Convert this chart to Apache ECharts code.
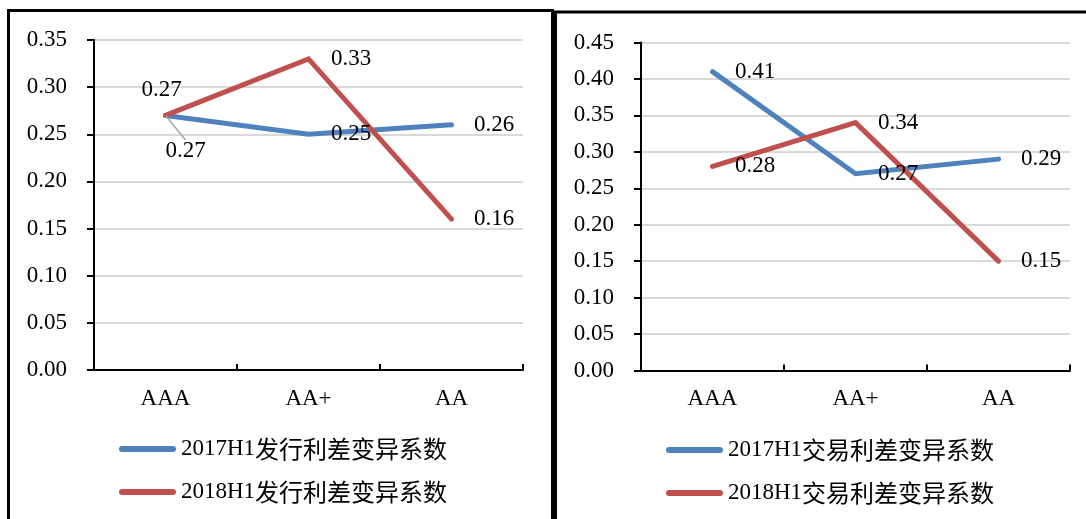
<!DOCTYPE html>
<html>
<head>
<meta charset="utf-8">
<style>
  html, body { margin: 0; padding: 0; background: #fff; }
  #chart { width: 1086px; height: 519px; }
</style>
<script src="https://cdn.jsdelivr.net/npm/echarts@6/dist/echarts.min.js"></script>
</head>
<body>
<div id="chart"></div>
<script>
// Rating categories shared by both panels
const categories = ['AAA', 'AA+', 'AA'];

// Issuance spread coefficient of variation (left panel)
const issueNames = ['2017H1发行利差变异系数', '2018H1发行利差变异系数'];
const issue2017 = [0.27, 0.25, 0.26];
const issue2018 = [0.27, 0.33, 0.16];
const issueAxisMax = 0.35;

// Trading spread coefficient of variation (right panel)
const tradeNames = ['2017H1交易利差变异系数', '2018H1交易利差变异系数'];
const trade2017 = [0.41, 0.27, 0.29];
const trade2018 = [0.28, 0.34, 0.15];
const tradeAxisMax = 0.45;

const axisStep = 0.05;

const BLUE = '#4F81BD';
const RED = '#C0504D';
const SERIF = "'Liberation Serif', 'Times New Roman', serif";
const CJK = "'Noto Sans CJK SC', sans-serif";

const chart = echarts.init(document.getElementById('chart'), null, { renderer: 'canvas' });

function yAxis(gridIndex, max) {
  return {
    type: 'value', gridIndex, min: 0, max, interval: axisStep,
    axisLine: { show: true, lineStyle: { color: '#000', width: 2 } },
    axisTick: { show: true, length: 7, lineStyle: { color: '#000', width: 2 } },
    splitLine: { show: true, lineStyle: { color: '#D9D9D9', width: 2 } },
    axisLabel: {
      color: '#000', fontFamily: SERIF, fontSize: 23, margin: 27,
      formatter: v => v.toFixed(2)
    }
  };
}

function xAxis(gridIndex) {
  return {
    type: 'category', gridIndex, data: categories, boundaryGap: true,
    axisLine: { show: true, lineStyle: { color: '#000', width: 2 } },
    axisTick: { show: true, inside: true, length: 6, lineStyle: { color: '#000', width: 2 } },
    splitLine: { show: false },
    axisLabel: { color: '#000', fontFamily: SERIF, fontSize: 23, margin: 17 }
  };
}

function baseLabel() {
  return {
    show: true, position: 'right', distance: 22,
    color: '#000', fontFamily: SERIF, fontSize: 23,
    formatter: p => Number(p.value).toFixed(2)
  };
}

function lineSeries(name, color, values, axisIndex, itemOverrides) {
  return {
    name, type: 'line', xAxisIndex: axisIndex, yAxisIndex: axisIndex,
    data: values.map((v, i) => Object.assign({ value: v }, (itemOverrides && itemOverrides[i]) || {})),
    symbol: 'circle', symbolSize: 1, showSymbol: true,
    itemStyle: { color },
    lineStyle: { color, width: 5, cap: 'round', join: 'miter' },
    label: baseLabel(),
    labelLine: { show: false },
    emphasis: { disabled: true },
    animation: false
  };
}

const legendIcon = 'path://M3,0 L54,0 A3,3 0 0 1 54,6 L3,6 A3,3 0 0 1 3,0 Z';
const legendRich = {
  a: { fontFamily: SERIF, fontSize: 23, color: '#000' },
  b: { fontFamily: CJK, fontSize: 24, color: '#000' }
};
function legend(names, left, top) {
  return {
    data: names, orient: 'vertical', left, top, padding: 0,
    itemWidth: 57, itemHeight: 6, itemGap: 19, icon: legendIcon,
    selectedMode: false,
    formatter: n => `{a|${n.slice(0, 6)}}{b|${n.slice(6)}}`,
    textStyle: { rich: legendRich }
  };
}

const option = {
  backgroundColor: '#fff',
  animation: false,
  grid: [
    { left: 94, top: 40, width: 429, height: 330 },
    { left: 641, top: 42.5, width: 429, height: 328 }
  ],
  xAxis: [xAxis(0), xAxis(1)],
  yAxis: [yAxis(0, issueAxisMax), yAxis(1, tradeAxisMax)],
  legend: [legend(issueNames, 119, 437), legend(tradeNames, 666, 438)],
  series: [
    Object.assign(
      lineSeries(issueNames[0], BLUE, issue2017, 0, {
        0: {
          label: { position: 'bottom', distance: 5 },
          labelLine: { show: true, lineStyle: { color: '#A6A6A6', width: 1.5 } }
        }
      }),
      { labelLayout: p => (p.dataIndex === 0 ? { dx: 20, dy: 19 } : {}) }
    ),
    lineSeries(issueNames[1], RED, issue2018, 0, {
      0: { label: { position: 'top', distance: 5, offset: [-4, -8] } }
    }),
    lineSeries(tradeNames[0], BLUE, trade2017, 1),
    lineSeries(tradeNames[1], RED, trade2018, 1)
  ],
  graphic: [
    { type: 'rect', silent: true, shape: { x: 8.5, y: 10.5, width: 544, height: 540 },
      style: { fill: 'none', stroke: '#000', lineWidth: 3 } },
    { type: 'rect', silent: true, shape: { x: 555.5, y: 12, width: 560, height: 540 },
      style: { fill: 'none', stroke: '#000', lineWidth: 3 } }
  ]
};

chart.setOption(option);
</script>
</body>
</html>
